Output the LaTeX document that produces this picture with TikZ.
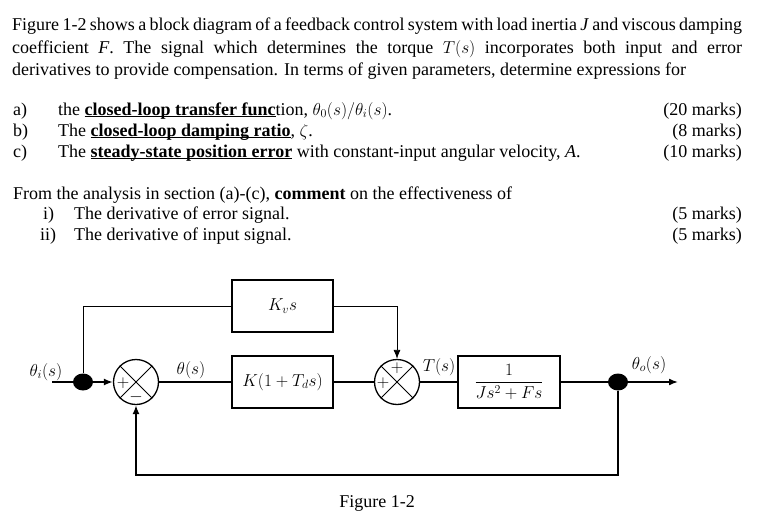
\documentclass[tikz,border=0pt]{standalone}
\usepackage{fontspec}
\setmainfont{Liberation Serif}
\usepackage{amsmath}
\usetikzlibrary{arrows.meta,shapes.geometric}
\newcommand\myul[1]{\setbox0\hbox{#1}\rlap{\rule[-2.4pt]{\wd0}{1.3pt}}\box0\relax}
\begin{document}
\begin{tikzpicture}[x=1pt,y=-1pt,
  txt/.style={anchor=base west,inner sep=0,font=\fontsize{18}{21}\selectfont},
  mrk/.style={anchor=base east,inner sep=0,font=\fontsize{18}{21}\selectfont},
  block/.style={draw,line width=1.3pt,minimum width=101pt,minimum height=52pt,inner sep=0,font=\fontsize{18}{21}\selectfont},
  sumc/.style={circle,draw,line width=1.3pt,minimum size=45pt,inner sep=0},
  dotn/.style={ellipse,fill,minimum width=20pt,minimum height=17pt,inner sep=0},
  sig/.style={line width=1.6pt},
  thinl/.style={line width=0.8pt},
  lab/.style={inner sep=0,font=\fontsize{18}{21}\selectfont},
  sgn/.style={inner sep=0,font=\fontsize{17}{18}\selectfont},
  tip/.style={-{Latex[length=9pt,width=7pt]}}]
\useasboundingbox (0,0) rectangle (760,527);
% text
\node[txt] (l1) at (12,31) {\makebox[730pt][s]{Figure 1-2 shows a block diagram of a feedback control system with load inertia \textit{J} and viscous damping}};
\node[txt] (l2) at (12,53) {\makebox[730pt][s]{coefficient \textit{F}. The signal which determines the torque $T(s)$ incorporates both input and error}};
\node[txt] (l3) at (12,75) {derivatives to provide compensation. In terms of given parameters, determine expressions for};
\node[txt] (ia) at (13,115) {a)};
\node[txt] (ta) at (58,115) {the \myul{\textbf{closed-loop transfer func}}tion, $\theta_0(s)/\theta_i(s)$.};
\node[mrk] (ma) at (742,115) {(20 marks)};
\node[txt] (ib) at (13,136) {b)};
\node[txt] (tb) at (58,136) {The \myul{\textbf{closed-loop damping ratio}}, $\zeta$.};
\node[mrk] (mb) at (742,136) {(8 marks)};
\node[txt] (ic) at (13,157) {c)};
\node[txt] (tc) at (58,157) {The \myul{\textbf{steady-state position error}} with constant-input angular velocity, \textit{A}.};
\node[mrk] (mc) at (742,157) {(10 marks)};
\node[txt] (fr) at (13,199) {From the analysis in section (a)-(c), \textbf{comment} on the effectiveness of};
\node[txt] (ii1) at (43,219) {i)};
\node[txt] (ti1) at (74,219) {The derivative of error signal.};
\node[mrk] (mi1) at (742,219) {(5 marks)};
\node[txt] (ii2) at (40,240) {ii)};
\node[txt] (ti2) at (74,240) {The derivative of input signal.};
\node[mrk] (mi2) at (742,240) {(5 marks)};
% diagram
\coordinate (in) at (52,382);
\node[dotn] (d1) at (83,382) {};
\node[sumc] (s1) at (136,382) {};
\node[block] (k) at (282.5,382) {$K(1+T_d s)$};
\node[block] (kv) at (282.5,306) {$K_v s$};
\node[sumc] (s2) at (397,382) {};
\node[block,minimum width=102pt] (g) at (509,382) {$\dfrac{1}{Js^2+Fs}$};
\node[dotn] (d2) at (618,382) {};
\coordinate (out) at (678,382);
\coordinate (fb) at (618,475);
\draw[thinl] (s1.north west) -- (s1.south east) (s1.north east) -- (s1.south west);
\draw[thinl] (s2.north west) -- (s2.south east) (s2.north east) -- (s2.south west);
\node[sgn] (p1) at (123,383) {$+$};
\node[sgn] (m1) at (136,397) {$-$};
\node[sgn] (p2) at (397,368) {$+$};
\node[sgn] (p3) at (383,383) {$+$};
\node[lab] (li) at (46,372) {$\theta_i(s)$};
\node[lab] (lt) at (191,370) {$\theta(s)$};
\node[lab] (lT) at (439,367) {$T(s)$};
\node[lab] (lo) at (649,365) {$\theta_o(s)$};
\node[inner sep=0,font=\fontsize{18}{21}\selectfont] (cap) at (377,503) {Figure 1-2};
% connectors
\draw[sig] (in) -- (d1);
\draw[sig,tip] (d1) -- (s1);
\draw[sig] (s1) -- (k);
\draw[sig] (k) -- (s2);
\draw[sig] (s2) -- (g);
\draw[sig] (g) -- (d2);
\draw[sig,tip] (d2) -- (out);
\draw[sig,tip] (d2) -- (fb) -| (s1.south);
\draw[thinl] (d1) |- (kv);
\draw[thinl,tip] (kv) -| (s2.north);
\end{tikzpicture}
\end{document}
